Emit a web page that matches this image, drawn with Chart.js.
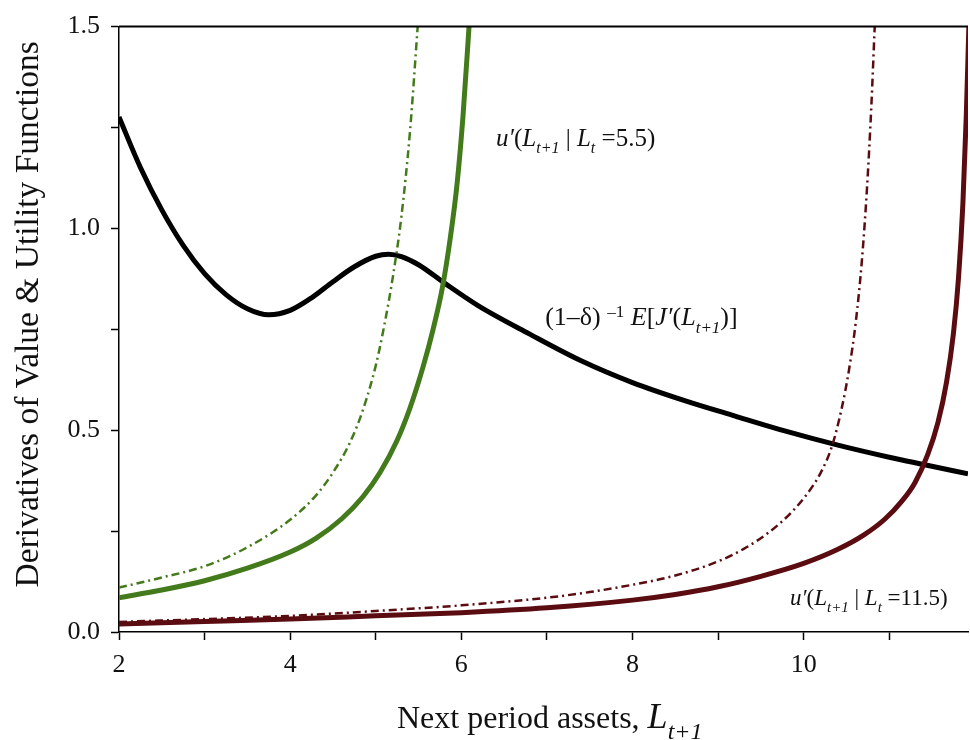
<!DOCTYPE html>
<html>
<head>
<meta charset="utf-8">
<script src="https://cdn.jsdelivr.net/npm/chart.js@4/dist/chart.umd.min.js"></script>
<style>
body { margin: 0; background: #fff; }
#wrap { width: 970px; height: 740px; }
</style>
</head>
<body>
<div id="wrap"><canvas id="myChart" width="970" height="740"></canvas></div>
<script>
// (1-delta)^-1 E[J'(L_t+1)]  (black)
var jX = [2.0, 2.25, 2.5, 2.75, 3.0, 3.25, 3.5, 3.75, 4.0, 4.25, 4.5, 4.75, 5.0, 5.15, 5.3, 5.5, 5.8, 6.2, 6.8, 7.4, 8.0, 8.6, 9.2, 9.8, 10.4, 11.0, 11.4, 11.92];
var jY = [1.276, 1.151, 1.046, 0.958, 0.888, 0.836, 0.801, 0.786, 0.797, 0.828, 0.868, 0.905, 0.931, 0.936, 0.93, 0.91, 0.865, 0.808, 0.738, 0.672, 0.618, 0.574, 0.535, 0.497, 0.463, 0.433, 0.415, 0.392];

// u'(L_t+1 | L_t = 5.5)  green, solid and dash-dot
var gX = [2.0, 2.5, 3.0, 3.5, 4.0, 4.3, 4.6, 4.85, 5.05, 5.25, 5.4, 5.55, 5.67, 5.78, 5.87, 5.95, 6.02, 6.09];
var gY = [0.085, 0.104, 0.127, 0.158, 0.198, 0.232, 0.28, 0.335, 0.395, 0.475, 0.555, 0.655, 0.75, 0.855, 0.975, 1.11, 1.28, 1.5];
var gdX = [2.0, 2.5, 3.0, 3.5, 4.0, 4.3, 4.5, 4.7, 4.85, 5.0, 5.1, 5.2, 5.3, 5.4, 5.49];
var gdY = [0.11, 0.135, 0.163, 0.21, 0.278, 0.338, 0.395, 0.47, 0.55, 0.66, 0.76, 0.88, 1.03, 1.24, 1.5];

// u'(L_t+1 | L_t = 11.5)  maroon, solid and dash-dot
var rX = [2.0, 3.0, 4.0, 5.0, 6.0, 7.0, 8.0, 8.5, 9.0, 9.5, 10.0, 10.4, 10.7, 10.95, 11.15, 11.3, 11.45, 11.57, 11.67, 11.75, 11.81, 11.86, 11.9, 11.93];
var rY = [0.02, 0.026, 0.032, 0.04, 0.048, 0.06, 0.079, 0.093, 0.112, 0.138, 0.17, 0.205, 0.24, 0.28, 0.325, 0.37, 0.44, 0.52, 0.62, 0.74, 0.88, 1.06, 1.28, 1.5];
var rdX = [2.0, 3.0, 4.0, 5.0, 6.0, 7.0, 7.5, 8.0, 8.5, 9.0, 9.3, 9.6, 9.85, 10.05, 10.2, 10.33, 10.44, 10.53, 10.61, 10.68, 10.74, 10.79, 10.83];
var rdY = [0.025, 0.032, 0.04, 0.052, 0.066, 0.085, 0.099, 0.117, 0.14, 0.175, 0.206, 0.248, 0.295, 0.345, 0.395, 0.46, 0.55, 0.65, 0.77, 0.92, 1.1, 1.3, 1.5];

var xMajor = [2, 4, 6, 8, 10];
var yMajor = [0, 0.5, 1.0, 1.5];

var GREEN = '#437a1b';
var MAROON = '#5a0c10';
var SERIF = '"Liberation Serif", "Times New Roman", serif';

function pts(xs, ys) {
    return xs.map(function(x, i) { return {x: x, y: ys[i]}; });
}

// text labels inside the plot, anchored in data units
var notes = [
    {x: 6.405, y: 1.205, size: 25, parts: [
        {t: 'u\u2032', it: true}, {t: '('}, {t: 'L', it: true}, {t: 't+1', it: true, sub: true},
        {t: ' | '}, {t: 'L', it: true}, {t: 't', it: true, sub: true}, {t: ' =5.5)'}
    ]},
    {x: 6.98, y: 0.76, size: 26, parts: [
        {t: '(1\u2013\u03b4) '}, {t: '\u20131', sup: true}, {t: ' '}, {t: 'E', it: true}, {t: '['},
        {t: 'J\u2032', it: true}, {t: '('}, {t: 'L', it: true}, {t: 't+1', it: true, sub: true}, {t: ')]'}
    ]},
    {x: 9.84, y: 0.066, size: 23, parts: [
        {t: 'u\u2032', it: true}, {t: '('}, {t: 'L', it: true}, {t: 't+1', it: true, sub: true},
        {t: ' | '}, {t: 'L', it: true}, {t: 't', it: true, sub: true}, {t: ' =11.5)'}
    ]}
];
var xTitle = [{t: 'Next period assets, '}, {t: 'L', it: true, size: 36}, {t: 't+1', it: true, sub: true, size: 38}];
var yTitle = 'Derivatives of Value & Utility Functions';

function drawRich(ctx, x, y, parts, size) {
    parts.forEach(function(p) {
        var base = p.size || size;
        var s = (p.sub || p.sup) ? Math.round(base * 0.64) : base;
        ctx.font = (p.it ? 'italic ' : '') + s + 'px ' + SERIF;
        var dy = p.sub ? base * 0.28 : (p.sup ? -base * 0.32 : 0);
        ctx.fillText(p.t, x, y + dy);
        x += ctx.measureText(p.t).width;
    });
}

var textPlugin = {
    id: 'texts',
    afterDraw: function(chart) {
        var ctx = chart.ctx, a = chart.chartArea;
        var xs = chart.scales.x, ys = chart.scales.y;
        ctx.save();
        ctx.strokeStyle = '#000';
        ctx.lineWidth = 2;
        ctx.beginPath();
        ctx.moveTo(a.left, a.top);
        ctx.lineTo(a.right, a.top);
        ctx.stroke();
        ctx.fillStyle = '#111';
        ctx.textAlign = 'left';
        ctx.textBaseline = 'alphabetic';
        notes.forEach(function(n) {
            drawRich(ctx, xs.getPixelForValue(n.x), ys.getPixelForValue(n.y), n.parts, n.size);
        });
        drawRich(ctx, a.left + 278, a.bottom + 96, xTitle, 32);
        // y axis title, rotated
        ctx.save();
        ctx.translate(38, (a.top + a.bottom) / 2 - 15);
        ctx.rotate(-Math.PI / 2);
        ctx.textAlign = 'center';
        ctx.font = '33.5px ' + SERIF;
        ctx.fillText(yTitle, 0, 0);
        ctx.restore();
        ctx.restore();
    }
};

var ctx = document.getElementById('myChart').getContext('2d');
var chart = new Chart(ctx, {
    type: 'line',
    data: {
        datasets: [
            {label: 'u1 dash', data: pts(gdX, gdY), borderColor: GREEN, borderWidth: 2.5, borderDash: [8, 4, 2, 4]},
            {label: 'u2 dash', data: pts(rdX, rdY), borderColor: MAROON, borderWidth: 2.5, borderDash: [8, 4, 2, 4]},
            {label: 'u1', data: pts(gX, gY), borderColor: GREEN, borderWidth: 5},
            {label: 'u2', data: pts(rX, rY), borderColor: MAROON, borderWidth: 5},
            {label: 'EJ', data: pts(jX, jY), borderColor: '#000', borderWidth: 5}
        ]
    },
    options: {
        responsive: false,
        animation: false,
        events: [],
        layout: { padding: { top: 22, right: 2, left: 0, bottom: 0 } },
        elements: {
            point: { radius: 0 },
            line: { cubicInterpolationMode: 'monotone', fill: false, borderCapStyle: 'butt' }
        },
        plugins: { legend: { display: false }, tooltip: { enabled: false } },
        scales: {
            x: {
                type: 'linear',
                min: 2,
                max: 11.92,
                afterFit: function(s) { s.height = 108; },
                border: { display: true, color: '#000', width: 1.5 },
                grid: { drawOnChartArea: false, drawTicks: true, tickLength: 8, tickColor: '#000', tickWidth: 1.5 },
                ticks: {
                    stepSize: 1,
                    includeBounds: false,
                    autoSkip: false,
                    maxRotation: 0,
                    padding: 10,
                    color: '#111',
                    font: { family: SERIF, size: 26 },
                    callback: function(v) { return xMajor.indexOf(v) >= 0 ? String(v) : ''; }
                }
            },
            y: {
                min: 0,
                max: 1.5,
                afterFit: function(s) { s.width = 119; },
                border: { display: true, color: '#000', width: 1.5 },
                grid: { drawOnChartArea: false, drawTicks: true, tickLength: 8, tickColor: '#000', tickWidth: 1.5 },
                ticks: {
                    stepSize: 0.25,
                    padding: 11,
                    color: '#111',
                    font: { family: SERIF, size: 26 },
                    callback: function(v) { return yMajor.indexOf(v) >= 0 ? v.toFixed(1) : ''; }
                }
            }
        }
    },
    plugins: [textPlugin]
});
</script>
</body>
</html>
